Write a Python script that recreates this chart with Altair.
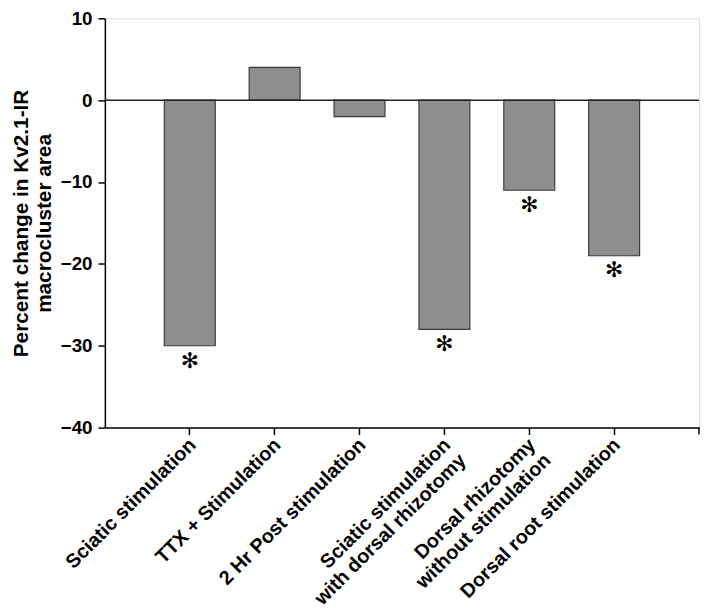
import altair as alt
import pandas as pd

categories = [
    "Sciatic stimulation",
    "TTX + Stimulation",
    "2 Hr Post stimulation",
    "Sciatic stimulation\nwith dorsal rhizotomy",
    "Dorsal rhizotomy\nwithout stimulation",
    "Dorsal root stimulation",
]
values = [-30, 4, -2, -28, -11, -19]
significant = [True, False, False, True, True, True]

df = pd.DataFrame({"cat": categories, "val": values, "sig": significant})
df["star"] = ["✻" if s else "" for s in significant]

W, H = 601, 414
FONT = "Liberation Sans"

x = alt.X(
    "cat:N",
    sort=categories,
    scale=alt.Scale(paddingInner=0.4, paddingOuter=0.7),
    axis=alt.Axis(
        title=None,
        labelAngle=-45,
        labelAlign="right",
        labelBaseline="middle",
        labelFont=FONT,
        labelFontWeight="bold",
        labelFontSize=20,
        labelColor="black",
        labelLineHeight=22,
        labelPadding=7,
        labelOffset=3,
        labelExpr="split(datum.label, '\\n')",
        domainColor="black",
        domainWidth=1.5,
        tickColor="black",
        tickWidth=1.5,
        tickSize=7,
        labelLimit=400,
    ),
)

y_scale = alt.Scale(domain=[-40, 10], nice=False, zero=False)

bars = alt.Chart(df).mark_bar(
    color="#8e8e8e", stroke="#3a3a3a", strokeWidth=1.2
).encode(
    x=x,
    y=alt.Y(
        "val:Q",
        scale=y_scale,
        axis=alt.Axis(
            title=["Percent change in Kv2.1-IR", "macrocluster area"],
            titleFont=FONT,
            titleFontWeight="bold",
            titleFontSize=21,
            titleColor="black",
            titleLineHeight=23,
            titlePadding=6,
            values=[-40, -30, -20, -10, 0, 10],
            labelFont=FONT,
            labelFontWeight="bold",
            labelFontSize=19,
            labelColor="black",
            labelPadding=6,
            grid=False,
            domainColor="black",
            domainWidth=1.5,
            tickColor="black",
            tickWidth=1.5,
            tickSize=7,
        ),
    ),
    y2=alt.datum(0),
)

stars = alt.Chart(df).mark_text(
    font="DejaVu Sans", fontWeight="bold", fontSize=22, baseline="top", dy=5, color="black"
).encode(
    x=alt.X("cat:N", sort=categories),
    y=alt.Y("val:Q", scale=y_scale),
    text="star:N",
)

zero = alt.Chart(pd.DataFrame({"z": [0]})).mark_rule(
    color="#222", strokeWidth=1.5
).encode(y=alt.Y("z:Q", scale=y_scale), x=alt.value(0), x2=alt.value(W))

end_tick = alt.Chart(pd.DataFrame({"z": [0]})).mark_rule(
    color="black", strokeWidth=1.5
).encode(x=alt.value(W), y=alt.value(H), y2=alt.value(H + 7))

chart = alt.layer(bars, zero, stars, end_tick).properties(
    width=W,
    height=H,
    autosize=alt.AutoSizeParams(type="none"),
    padding={"left": 98, "top": 7, "right": 2, "bottom": 179},
).configure_view(stroke=None).configure(background="white")

chart.save("out.html", embed_options={"renderer": "svg", "actions": False})
